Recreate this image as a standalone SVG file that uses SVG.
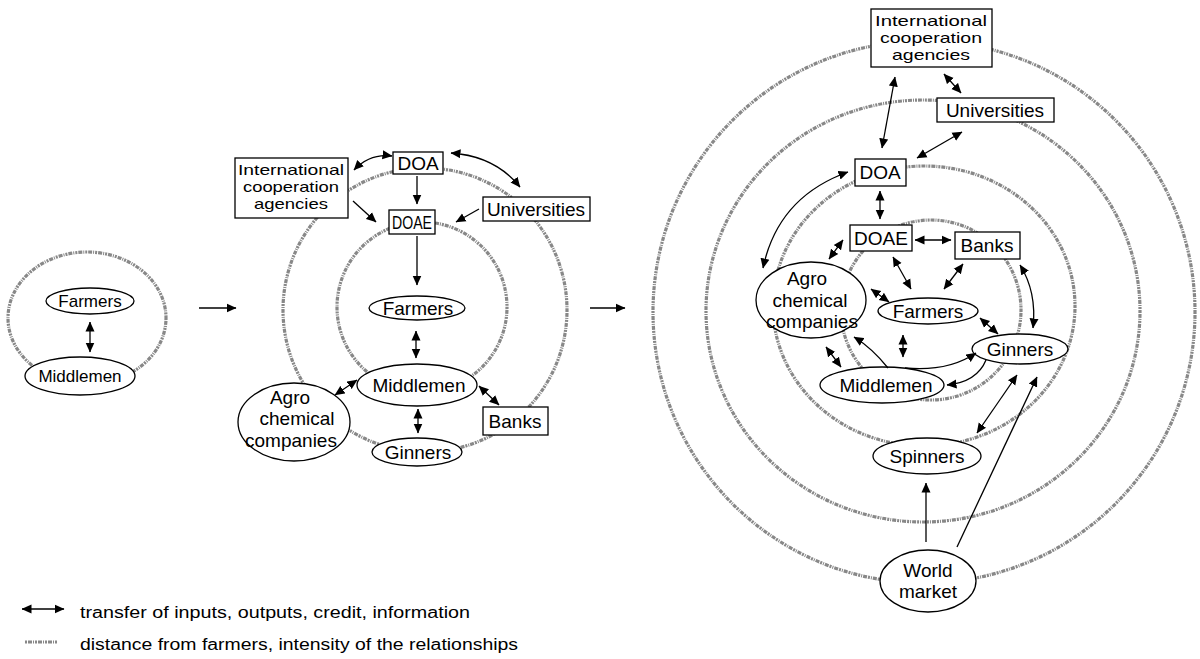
<svg xmlns="http://www.w3.org/2000/svg" width="1200" height="659" viewBox="0 0 1200 659">
<defs>
<marker id="ah" viewBox="0 0 10 10" refX="9.5" refY="5" markerWidth="10" markerHeight="10" markerUnits="userSpaceOnUse" orient="auto-start-reverse"><path d="M0,0.5 L10,5 L0,9.5 z" fill="#000"/></marker>
</defs>
<style>
text{font-family:"Liberation Sans",Arial,Helvetica,sans-serif;fill:#000;text-anchor:middle}
.s15{font-size:15px}
.s17{font-size:17px}
.s19{font-size:19px}
.leg{font-size:16px;text-anchor:start}
.ring{fill:none;stroke:#888;stroke-width:3.2;stroke-dasharray:2 1 4 1 1 1}
.nb{fill:#fff;stroke:#000;stroke-width:1.3}
.c{fill:none;stroke:#000;stroke-width:1.3;marker-end:url(#ah)}
.d{fill:none;stroke:#000;stroke-width:1.3;marker-start:url(#ah);marker-end:url(#ah)}
</style>
<rect width="1200" height="659" fill="#fff"/>

<g id="rings">
<ellipse class="ring" cx="87" cy="318" rx="79" ry="66"/>
<circle class="ring" cx="425" cy="310" r="142"/>
<circle class="ring" cx="422" cy="307" r="85"/>
<circle class="ring" cx="924" cy="312" r="271"/>
<ellipse class="ring" cx="923" cy="311" rx="217" ry="211"/>
<ellipse class="ring" cx="924" cy="306" rx="151" ry="140"/>
<circle class="ring" cx="931" cy="310" r="90"/>
</g>

<g id="nodes">
<g id="left-farmers"><ellipse class="nb" cx="90" cy="301" rx="44" ry="13"/><text class="s17" x="90" y="307">Farmers</text></g>
<g id="left-middlemen"><ellipse class="nb" cx="80" cy="376" rx="55" ry="19"/><text class="s17" x="80" y="382">Middlemen</text></g>

<g id="mid-intl"><rect class="nb" x="235" y="158" width="113" height="60"/><text class="s15" x="291" y="175" textLength="106" lengthAdjust="spacingAndGlyphs">International</text><text class="s15" x="291" y="192" textLength="96" lengthAdjust="spacingAndGlyphs">cooperation</text><text class="s15" x="291" y="209" textLength="74" lengthAdjust="spacingAndGlyphs">agencies</text></g>
<g id="mid-doa"><rect class="nb" x="393" y="152" width="50" height="22"/><text class="s19" x="418" y="170">DOA</text></g>
<g id="mid-doae"><rect class="nb" x="389" y="210" width="46" height="24"/><text class="s19" x="412" y="229" textLength="40" lengthAdjust="spacingAndGlyphs">DOAE</text></g>
<g id="mid-universities"><rect class="nb" x="483" y="197" width="107" height="24"/><text class="s19" x="536" y="216">Universities</text></g>
<g id="mid-farmers"><ellipse class="nb" cx="417" cy="308" rx="48" ry="12"/><text class="s19" x="418" y="315">Farmers</text></g>
<g id="mid-middlemen"><ellipse class="nb" cx="417" cy="385" rx="60" ry="21"/><text class="s19" x="419" y="392">Middlemen</text></g>
<g id="mid-ginners"><ellipse class="nb" cx="417" cy="452" rx="45" ry="14"/><text class="s19" x="418" y="459">Ginners</text></g>
<g id="mid-agro"><ellipse class="nb" cx="294" cy="422" rx="56" ry="39"/><text class="s19" x="290" y="404">Agro</text><text class="s19" x="297" y="425">chemical</text><text class="s19" x="291" y="447">companies</text></g>
<g id="mid-banks"><rect class="nb" x="483" y="407" width="65" height="28"/><text class="s19" x="515" y="428">Banks</text></g>

<g id="right-intl"><rect class="nb" x="871" y="9" width="121" height="58"/><text class="s15" x="931" y="26" textLength="112" lengthAdjust="spacingAndGlyphs">International</text><text class="s15" x="931" y="43" textLength="102" lengthAdjust="spacingAndGlyphs">cooperation</text><text class="s15" x="931" y="60" textLength="78" lengthAdjust="spacingAndGlyphs">agencies</text></g>
<g id="right-universities"><rect class="nb" x="937" y="98" width="117" height="24"/><text class="s19" x="995" y="117">Universities</text></g>
<g id="right-doa"><rect class="nb" x="855" y="159" width="51" height="27"/><text class="s19" x="880" y="179">DOA</text></g>
<g id="right-doae"><rect class="nb" x="850" y="225" width="62" height="26"/><text class="s19" x="881" y="245">DOAE</text></g>
<g id="right-banks"><rect class="nb" x="955" y="232" width="65" height="27"/><text class="s19" x="987" y="252">Banks</text></g>
<g id="right-agro"><ellipse class="nb" cx="811" cy="300" rx="55" ry="38"/><text class="s19" x="807" y="285">Agro</text><text class="s19" x="810" y="307">chemical</text><text class="s19" x="812" y="328">companies</text></g>
<g id="right-farmers"><ellipse class="nb" cx="928" cy="311" rx="50" ry="13"/><text class="s19" x="928" y="318">Farmers</text></g>
<g id="right-ginners"><ellipse class="nb" cx="1020" cy="349" rx="48" ry="15"/><text class="s19" x="1020" y="356">Ginners</text></g>
<g id="right-middlemen"><ellipse class="nb" cx="882" cy="385" rx="62" ry="18"/><text class="s19" x="886" y="392">Middlemen</text></g>
<g id="right-spinners"><ellipse class="nb" cx="927" cy="456" rx="54" ry="18"/><text class="s19" x="927" y="463">Spinners</text></g>
<g id="right-world"><ellipse class="nb" cx="928" cy="581" rx="48" ry="31"/><text class="s19" x="928" y="577">World</text><text class="s19" x="928" y="598">market</text></g>
</g>

<g id="connectors">
<line class="d" x1="90" y1="322" x2="90" y2="352"/>
<line class="c" x1="199" y1="308" x2="236" y2="308"/>
<line class="c" x1="590" y1="308" x2="625" y2="308"/>

<line class="c" x1="417" y1="176" x2="417" y2="204"/>
<path class="d" d="M354,170 Q370,153 392,156"/>
<path class="d" d="M451,153 Q495,156 520,187"/>
<line class="c" x1="353" y1="201" x2="376" y2="222"/>
<line class="c" x1="479" y1="209" x2="456" y2="222"/>
<line class="c" x1="417" y1="236" x2="417" y2="285"/>
<line class="d" x1="416" y1="331" x2="416" y2="358"/>
<line class="d" x1="418" y1="409" x2="418" y2="433"/>
<line class="d" x1="335" y1="395" x2="357" y2="380"/>
<line class="d" x1="479" y1="386" x2="499" y2="405"/>

<line class="d" x1="944" y1="74" x2="961" y2="93"/>
<line class="d" x1="895" y1="77" x2="882" y2="148"/>
<line class="d" x1="962" y1="132" x2="917" y2="158"/>
<line class="d" x1="880" y1="191" x2="880" y2="219"/>
<line class="d" x1="915" y1="240" x2="951" y2="240"/>
<path class="d" d="M848,172 Q778,197 763,268"/>
<line class="d" x1="843" y1="240" x2="829" y2="259"/>
<line class="d" x1="893" y1="257" x2="911" y2="289"/>
<line class="d" x1="963" y1="264" x2="944" y2="289"/>
<line class="d" x1="871" y1="289" x2="889" y2="302"/>
<line class="d" x1="980" y1="318" x2="998" y2="334"/>
<path class="d" d="M1020,265 Q1037,292 1033,328"/>
<line class="d" x1="903" y1="335" x2="903" y2="357"/>
<line class="d" x1="826" y1="347" x2="841" y2="367"/>
<path class="c" d="M888,368 Q872,348 854,337"/>
<path class="c" d="M905,368 Q948,372 976,353"/>
<path class="c" d="M986,360 Q977,382 947,385"/>
<line class="d" x1="977" y1="433" x2="1017" y2="375"/>
<line class="c" x1="957" y1="547" x2="1037" y2="377"/>
<line class="c" x1="926" y1="542" x2="926" y2="483"/>
</g>

<g id="legend">
<line class="d" x1="22" y1="609" x2="64" y2="609"/>
<text class="leg" x="80" y="618" textLength="390" lengthAdjust="spacingAndGlyphs">transfer of inputs, outputs, credit, information</text>
<line class="ring" x1="25" y1="642" x2="57" y2="642"/>
<text class="leg" x="80" y="650" textLength="438" lengthAdjust="spacingAndGlyphs">distance from farmers, intensity of the relationships</text>
</g>
</svg>
